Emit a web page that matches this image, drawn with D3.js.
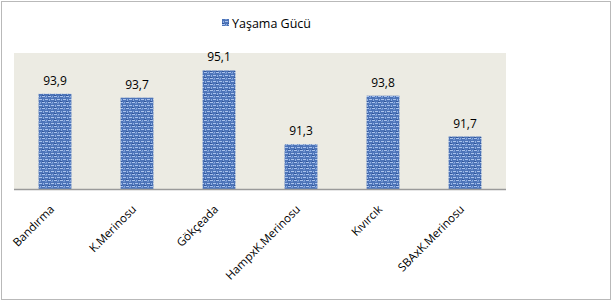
<!DOCTYPE html>
<html>
<head>
<meta charset="utf-8">
<script src="https://cdn.jsdelivr.net/npm/d3@7"></script>
<style>
body { margin: 0; background: #fff; }
text { font-family: "Open Sans", "Liberation Sans", sans-serif; fill: #000; }
</style>
</head>
<body>
<script>
// data
var categories = ["Bandırma", "K.Merinosu", "Gökçeada", "HampxK.Merinosu", "Kıvırcık", "SBAxK.Merinosu"];
var values = [93.9, 93.7, 95.1, 91.3, 93.8, 91.7];
var labels = ["93,9", "93,7", "95,1", "91,3", "93,8", "91,7"];
var seriesName = "Yaşama Gücü";

var width = 612, height = 302;

var svg = d3.select("body").append("svg")
    .attr("width", width)
    .attr("height", height);

// woven blue texture for the bars
var defs = svg.append("defs");
var pat = defs.append("pattern")
    .attr("id", "weave")
    .attr("patternUnits", "userSpaceOnUse")
    .attr("width", 6).attr("height", 6);
pat.append("rect").attr("width", 6).attr("height", 6).attr("fill", "#4d74b8");
pat.append("rect").attr("x", 0).attr("y", 0).attr("width", 3).attr("height", 1).attr("fill", "#a9c2ec");
pat.append("rect").attr("x", 3).attr("y", 3).attr("width", 3).attr("height", 1).attr("fill", "#a9c2ec");
pat.append("rect").attr("x", 4).attr("y", 0).attr("width", 1).attr("height", 2).attr("fill", "#8eaee2");
pat.append("rect").attr("x", 1).attr("y", 3).attr("width", 1).attr("height", 2).attr("fill", "#8eaee2");
pat.append("rect").attr("x", 0).attr("y", 5).attr("width", 2).attr("height", 1).attr("fill", "#2f559a");
pat.append("rect").attr("x", 3).attr("y", 1).attr("width", 2).attr("height", 1).attr("fill", "#6f93d0");

// outer frame
svg.append("rect")
    .attr("x", 1.5).attr("y", 1.5)
    .attr("width", width - 3).attr("height", height - 4)
    .attr("fill", "#fff")
    .attr("stroke", "#b9b9b9");

// plot area
var plot = {left: 14, right: 506, top: 53, bottom: 189};

svg.append("rect")
    .attr("x", plot.left).attr("y", plot.top)
    .attr("width", plot.right - plot.left)
    .attr("height", plot.bottom - plot.top)
    .attr("fill", "#ecebe3");

var x = d3.scaleBand()
    .domain(categories)
    .range([plot.left, plot.right])
    .paddingInner(0.6)
    .paddingOuter(0.3);

var y = d3.scaleLinear()
    .domain([89, 96])
    .range([plot.bottom, plot.top]);

// bars
svg.selectAll(".bar")
    .data(values)
    .enter()
    .append("rect")
    .attr("class", "bar")
    .attr("x", function(d, i){ return x(categories[i]); })
    .attr("y", function(d){ return y(d); })
    .attr("width", x.bandwidth())
    .attr("height", function(d){ return plot.bottom - y(d); })
    .attr("fill", "url(#weave)");

// value labels
svg.selectAll(".val")
    .data(values)
    .enter()
    .append("text")
    .attr("class", "val")
    .attr("x", function(d, i){ return x(categories[i]) + x.bandwidth() / 2; })
    .attr("y", function(d){ return y(d) - 9; })
    .attr("text-anchor", "middle")
    .attr("font-size", 12)
    .text(function(d, i){ return labels[i]; });

// x axis line
svg.append("line")
    .attr("x1", plot.left).attr("x2", plot.right)
    .attr("y1", plot.bottom + 0.5).attr("y2", plot.bottom + 0.5)
    .attr("stroke", "#9a9a9a")
    .attr("stroke-width", 1.5);

// category labels
var xAxis = d3.axisBottom(x).tickSize(0).tickPadding(0);
var gx = svg.append("g")
    .attr("transform", "translate(0," + plot.bottom + ")")
    .call(xAxis);
gx.select(".domain").remove();
gx.selectAll("text")
    .attr("font-size", 11.5)
    .attr("text-anchor", "end")
    .attr("dy", null)
    .attr("y", 0)
    .attr("transform", "translate(0,21) rotate(-45)");

// legend
svg.append("rect")
    .attr("x", 222).attr("y", 19)
    .attr("width", 7).attr("height", 7)
    .attr("fill", "url(#weave)");
svg.append("text")
    .attr("x", 232).attr("y", 28)
    .attr("font-size", 12.5)
    .text(seriesName);
</script>
</body>
</html>
